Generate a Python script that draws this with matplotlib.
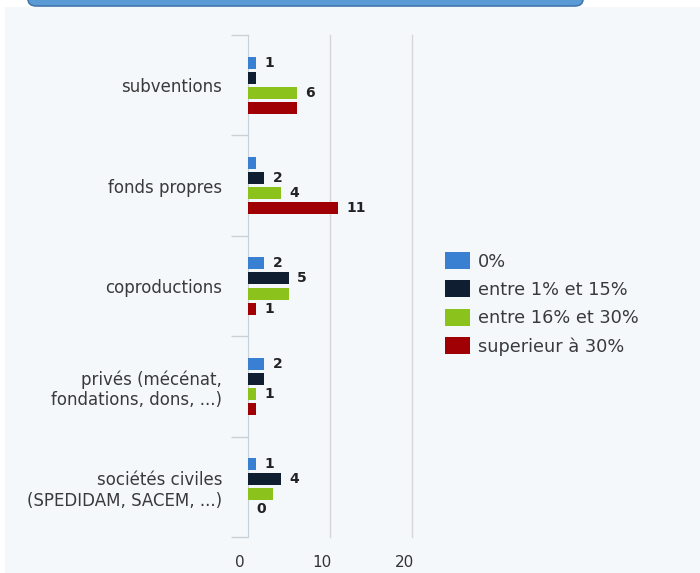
import numpy as np
import matplotlib
matplotlib.use("Agg")
import matplotlib.pyplot as plt
from matplotlib.patches import Rectangle, FancyBboxPatch
from matplotlib.transforms import ScaledTranslation

plt.rcParams['font.family'] = ['DejaVu Sans']

categories = ['subventions', 'fonds propres', 'coproductions',
              'privés (mécénat,\nfondations, dons, ...)',
              'sociétés civiles\n(SPEDIDAM, SACEM, ...)']
series_names = ['0%', 'entre 1% et 15%', 'entre 16% et 30%', 'superieur à 30%']
v_zero = [1, 1, 2, 2, 1]
v_1_15 = [1, 2, 5, 2, 4]
v_16_30 = [6, 4, 5, 1, 3]
v_over30 = [6, 11, 1, 1, 0]
x_ticks = [0, 10, 20]

colors = ['#3a80d2', '#0f1e31', '#8bc21c', '#a00004']
bg = '#f4f8fb'

W, H = 700, 573
fig = plt.figure(figsize=(7, 5.73), dpi=100)
fig.patch.set_facecolor('white')

# light panel and the blue header strip at the top
fig.patches.append(Rectangle((5 / W, 0), 1, 1 - 7 / H, transform=fig.transFigure,
                             facecolor=bg, edgecolor='none', zorder=-2))
fig.patches.append(FancyBboxPatch((28 / W, 1 - 6 / H), 555 / W, 20 / H,
                                  boxstyle='round,pad=0,rounding_size=0.012',
                                  transform=fig.transFigure, facecolor='#5b9bd5',
                                  edgecolor='#4377ad', linewidth=1.2, zorder=-1))

ax = fig.add_axes([248 / W, 1 - 537 / H, (412 - 248) / W, (537 - 35) / H])
ax.set_facecolor(bg)

all_vals = [v_zero, v_1_15, v_16_30, v_over30]
y = np.arange(len(categories))
step, height = 0.15, 0.12
offsets = [-1.5 * step, -0.5 * step, 0.5 * step, 1.5 * step]

labels = []
for i, vals in enumerate(all_vals):
    ax.barh(y + offsets[i], vals, height=height, color=colors[i],
            label=series_names[i], zorder=3)
    for j, v in enumerate(vals):
        labels.append((v, i, j))

ax.set_xlim(0, 20)
ax.set_ylim(len(categories) - 0.5, -0.5)
ax.set_xticks(x_ticks)
ax.set_xticklabels([str(t) for t in x_ticks], fontsize=11, color='#333333')
ax.tick_params(axis='x', length=0, pad=13)
# the x labels sit a little left of their grid lines
shift = ScaledTranslation(-8 / 100, 0, fig.dpi_scale_trans)
for lbl in ax.get_xticklabels():
    lbl.set_transform(lbl.get_transform() + shift)
ax.set_yticks(y)
ax.set_yticklabels(categories, fontsize=12, color='#3a3a3a', ha='right')
ax.tick_params(axis='y', which='major', length=0, pad=18.5)
ax.set_yticks(np.arange(-0.5, len(categories)), minor=True)
ax.tick_params(axis='y', which='minor', length=12, width=1, color='#c8d0d8')
for t in x_ticks[1:]:
    ax.axvline(t, color='#d6d6d6', linewidth=1, zorder=1, clip_on=False)
for s in ['top', 'right', 'bottom']:
    ax.spines[s].set_visible(False)
ax.spines['left'].set_color('#c8d0d8')

# data labels, larger values first, skip the ones that would overlap
fig.canvas.draw()
renderer = fig.canvas.get_renderer()
placed = []
for v, i, j in sorted(labels, key=lambda t: -t[0]):
    txt = ax.annotate(str(v), (v, y[j] + offsets[i]), xytext=(6, 0),
                      textcoords='offset points', va='center', ha='left',
                      fontsize=10, fontweight='bold', color='#222222', zorder=5)
    bb = txt.get_window_extent(renderer)
    box = (bb.x0 - 3, bb.y0 - 2, bb.x1 + 3, bb.y1 + 2)
    clash = any(not (box[2] < b[0] or box[0] > b[2] or box[3] < b[1] or box[1] > b[3])
                for b in placed)
    if clash:
        txt.remove()
    else:
        placed.append(box)

fig.legend(loc='upper left', bbox_to_anchor=(429 / W, 1 - 236 / H), frameon=False,
           fontsize=12.8, handlelength=1.4, handleheight=1.1, labelspacing=0.55,
           handletextpad=0.45, labelcolor='#3a3a3a')

fig.savefig('out.png', dpi=100, facecolor=fig.get_facecolor())
